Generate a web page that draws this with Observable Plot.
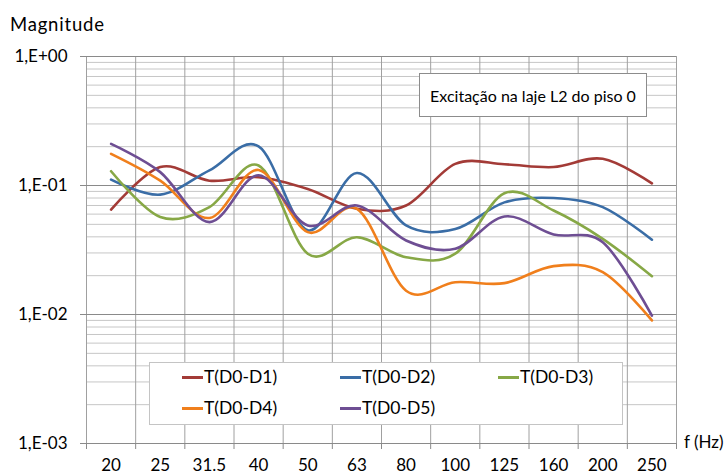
<!DOCTYPE html>
<html><head><meta charset="utf-8">
<script src="https://cdn.jsdelivr.net/npm/d3@7"></script>
<script src="https://cdn.jsdelivr.net/npm/@observablehq/plot@0.6"></script>
<style>
body{margin:0;background:#fff;}
#wrap{position:relative;width:726px;height:475px;font-family:Lato,"Open Sans",sans-serif;color:#000;}
#wrap svg{position:absolute;left:0;top:0;}
.ov{position:absolute;white-space:nowrap;}
.leg{position:absolute;left:149px;top:362px;width:472px;height:61px;background:#fff;border:1px solid #c4c4c4;}
.item{position:absolute;font-size:17.5px;line-height:18px;}
.item i{display:inline-block;width:21px;height:3px;vertical-align:middle;margin-right:1px;position:relative;top:-1px;}
.note{position:absolute;left:419px;top:73px;width:226px;height:42px;background:#fff;border:1px solid #8c8c8c;font-size:16px;display:flex;align-items:center;justify-content:center;}
</style></head>
<body><div id="wrap"></div>
<script>
const freqs = ["20","25","31.5","40","50","63","80","100","125","160","200","250"];
const seriesNames = ["T(D0-D1)","T(D0-D2)","T(D0-D3)","T(D0-D4)","T(D0-D5)"];
const seriesColors = ["#A33B37","#3A6DA6","#87A846","#F07F1C","#6E4E93"];
const d1 = [0.065,0.139,0.109,0.116,0.094,0.066,0.070,0.147,0.146,0.139,0.161,0.104];
const d2 = [0.111,0.085,0.131,0.201,0.045,0.125,0.049,0.046,0.074,0.080,0.068,0.038];
const d3 = [0.129,0.057,0.068,0.143,0.0296,0.0397,0.0278,0.0296,0.087,0.064,0.0386,0.0198];
const d4 = [0.176,0.109,0.056,0.132,0.0435,0.066,0.0153,0.0178,0.0175,0.0237,0.0213,0.0090];
const d5 = [0.21,0.127,0.052,0.120,0.049,0.070,0.0375,0.0323,0.0575,0.0417,0.0363,0.0098];
const yTickLabels = ["1,E-03","1,E-02","1,E-01","1,E+00"];
const yMajors = [1e-3,1e-2,1e-1,1];

const allSeries = [d1,d2,d3,d4,d5];
const data = [];
allSeries.forEach((vals,s) => vals.forEach((v,i) => data.push({s: seriesNames[s], i, v})));
const idx = freqs.map((_,i) => i);
const bounds = freqs.map((_,i) => i - 0.5).concat([freqs.length - 0.5]);
const yMinors = [];
for (const m of [1e-3,1e-2,1e-1]) for (let k = 2; k <= 9; k++) yMinors.push(m*k);

const chart = Plot.plot({
  width: 726, height: 475,
  marginLeft: 86, marginRight: 50, marginTop: 56, marginBottom: 32,
  style: {fontFamily: "Lato, 'Open Sans', sans-serif", fontSize: "17px", background: "transparent"},
  x: {type: "linear", domain: [-0.5, freqs.length - 0.5], axis: null},
  y: {type: "log", domain: [1e-3, 1], axis: null},
  color: {domain: seriesNames, range: seriesColors},
  marks: [
    Plot.ruleY(yMinors, {stroke: "#c6c6c6", strokeWidth: 1}),
    Plot.ruleX(bounds, {stroke: "#a0a0a0", strokeWidth: 1}),
    Plot.ruleY(yMajors, {stroke: "#8a8a8a", strokeWidth: 1}),
    Plot.axisX({ticks: bounds, tickSize: 6, tickFormat: () => "", stroke: "#8a8a8a", label: null}),
    Plot.axisX({ticks: idx, tickSize: 0, tickPadding: 15, tickFormat: i => freqs[i], fill: "#000", fontSize: 17, label: null}),
    Plot.axisY({ticks: yMajors, tickSize: 6, tickPadding: 13, tickFormat: d => yTickLabels[yMajors.indexOf(d)], stroke: "#8a8a8a", fill: "#000", fontSize: 17, label: null}),
    Plot.line(data, {x: "i", y: "v", z: "s", stroke: "s", curve: "cardinal", strokeWidth: 2.6})
  ]
});
const wrap = document.getElementById("wrap");
wrap.appendChild(chart);

function ov(text, css){ const d=document.createElement("div"); d.className="ov"; d.textContent=text; Object.assign(d.style, css); wrap.appendChild(d); return d; }
ov("Magnitude", {left:"10px", top:"13px", fontSize:"18.5px", letterSpacing:"0.8px"});
ov("f (Hz)", {left:"684px", top:"431px", fontSize:"17px"});

const note = document.createElement("div"); note.className="note"; note.textContent="Excitação na laje L2 do piso 0"; wrap.appendChild(note);

const leg = document.createElement("div"); leg.className="leg"; wrap.appendChild(leg);
const pos = [[32,5],[190,5],[348,5],[32,36],[190,36]];
seriesNames.forEach((n,k) => {
  const it = document.createElement("div"); it.className="item";
  it.style.left = pos[k][0]+"px"; it.style.top = pos[k][1]+"px";
  const sw = document.createElement("i"); sw.style.background = seriesColors[k];
  it.appendChild(sw); it.appendChild(document.createTextNode(n));
  leg.appendChild(it);
});
</script></body></html>
